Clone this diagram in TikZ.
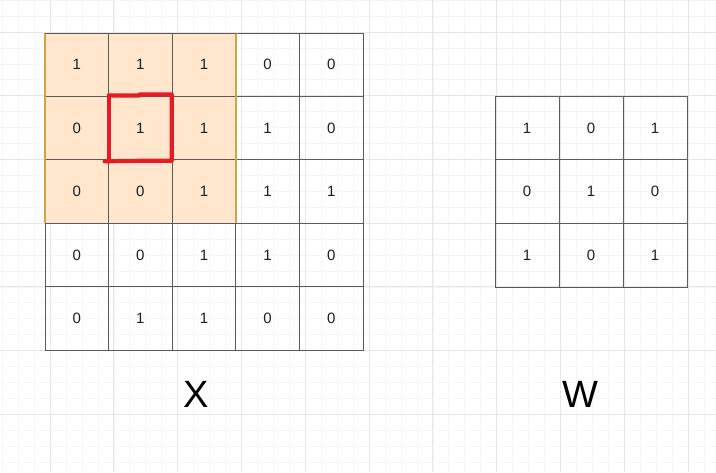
\documentclass[tikz,border=0pt]{standalone}
\usepackage{fontspec}
\setmainfont{Liberation Sans}
\definecolor{gridmajor}{RGB}{230,230,230}
\definecolor{gridminor}{RGB}{246,246,246}
\definecolor{cellline}{RGB}{90,90,90}
\definecolor{hlfill}{RGB}{255,230,204}
\definecolor{hlline}{RGB}{205,165,70}
\definecolor{redbox}{RGB}{228,28,38}
\definecolor{digit}{RGB}{30,30,30}
\tikzset{
  cell/.style={minimum width=63.6pt, minimum height=63.4pt, inner sep=0pt, outer sep=0pt,
    draw=cellline, line width=0.9pt, text=digit, font=\fontsize{15}{17}\selectfont},
  wcell/.style={cell, minimum width=64pt, minimum height=63.7pt},
  biglabel/.style={font=\fontsize{38}{44}\selectfont, text=black, inner sep=0pt},
}
\begin{document}
\begin{tikzpicture}[x=1pt,y=-1pt]
\useasboundingbox (0,0) rectangle (716,472);
\fill[white] (0,0) rectangle (716,472);
% minor grid
\foreach \i in {-3,...,44} {
  \draw[gridminor, line width=0.6pt] ({50+15.95*\i},0) -- ({50+15.95*\i},472);
}
\foreach \j in {-2,...,28} {
  \draw[gridminor, line width=0.6pt] (0,{32+15.925*\j}) -- (716,{32+15.925*\j});
}
% major grid
\foreach \i in {0,...,10} {
  \draw[gridmajor, line width=0.8pt] ({50+63.8*\i},0) -- ({50+63.8*\i},472);
}
\foreach \j in {0,...,7} {
  \draw[gridmajor, line width=0.8pt] (0,{32+63.7*\j}) -- (716,{32+63.7*\j});
}
% highlighted region
\fill[hlfill] (45,33) rectangle (236,223);
% X matrix
\foreach \r/\row in {1/{1,1,1,0,0},2/{0,1,1,1,0},3/{0,0,1,1,1},4/{0,0,1,1,0},5/{0,1,1,0,0}} {
  \foreach \v [count=\c] in \row {
    \node[cell] (x-\r-\c) at ({45+63.6*(\c-0.5)},{33+63.4*(\r-0.5)}) {\v};
  }
}
\draw[hlline, line width=1.4pt] (x-1-1.north west) -- (x-3-1.south west);
\draw[hlline, line width=1.6pt] (x-1-3.north east) -- (x-3-3.south east);
\draw[cellline, line width=0.9pt] (x-1-1.north west) -- (x-1-3.north east);
% red focus square
\draw[redbox, line width=4.2pt, line join=round, line cap=round]
  ([xshift=0.5pt,yshift=1pt]x-2-2.north west) -- ([xshift=-1pt,yshift=1pt]x-2-2.north)
  -- ([xshift=-1pt,yshift=2pt]x-2-2.north) -- ([xshift=-0.5pt,yshift=2pt]x-2-2.north east)
  -- ([xshift=-0.5pt,yshift=-1pt]x-2-2.south east) -- ([yshift=-1pt]x-2-2.south)
  -- ([xshift=-4pt,yshift=-1.5pt]x-2-2.south west);
\draw[redbox, line width=4.2pt, line cap=round]
  ([xshift=0.5pt,yshift=1pt]x-2-2.north west) -- ([xshift=0.5pt,yshift=-1.5pt]x-2-2.south west);
% W matrix
\foreach \r/\row in {1/{1,0,1},2/{0,1,0},3/{1,0,1}} {
  \foreach \v [count=\c] in \row {
    \node[wcell] (w-\r-\c) at ({495+64*(\c-0.5)},{96+63.7*(\r-0.5)}) {\v};
  }
}
% labels
\node[biglabel] (xlabel) at (196,394) {X};
\node[biglabel] (wlabel) at (580,394) {W};
\end{tikzpicture}
\end{document}
